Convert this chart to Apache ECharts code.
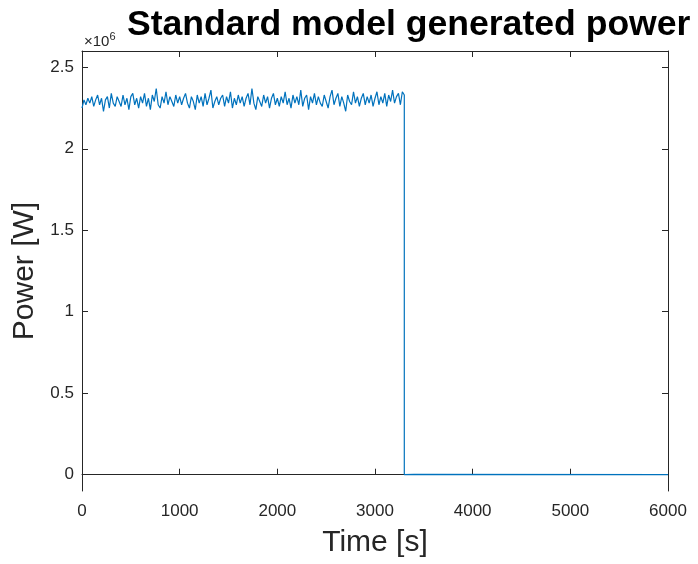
<!DOCTYPE html>
<html>
<head>
<meta charset="utf-8">
<script src="https://cdn.jsdelivr.net/npm/echarts@6/dist/echarts.min.js"></script>
<style>html,body{margin:0;padding:0;background:#fff}#c{width:698px;height:564px}</style>
</head>
<body>
<div id="c"></div>
<script>
// Time [s]
var time = [
0,20,40,60,80,100,120,140,160,180,
200,220,240,260,280,300,320,340,360,380,
400,420,440,460,480,500,520,540,560,580,
600,620,640,660,680,700,720,740,760,780,
800,820,840,860,880,900,920,940,960,980,
1000,1020,1040,1060,1080,1100,1120,1140,1160,1180,
1200,1220,1240,1260,1280,1300,1320,1340,1360,1380,
1400,1420,1440,1460,1480,1500,1520,1540,1560,1580,
1600,1620,1640,1660,1680,1700,1720,1740,1760,1780,
1800,1820,1840,1860,1880,1900,1920,1940,1960,1980,
2000,2020,2040,2060,2080,2100,2120,2140,2160,2180,
2200,2220,2240,2260,2280,2300,2320,2340,2360,2380,
2400,2420,2440,2460,2480,2500,2520,2540,2560,2580,
2600,2620,2640,2660,2680,2700,2720,2740,2760,2780,
2800,2820,2840,2860,2880,2900,2920,2940,2960,2980,
3000,3020,3040,3060,3080,3100,3120,3140,3160,3180,
3200,3220,3240,3260,3280,3300,
3300,3400,3420,6000
];
// Power [W] in units of 1e6
var power = [
2.25,2.30,2.27,2.31,2.28,2.32,2.26,2.30,2.33,2.27,
2.31,2.23,2.30,2.32,2.25,2.34,2.28,2.26,2.32,2.29,
2.26,2.33,2.27,2.31,2.24,2.32,2.34,2.27,2.31,2.25,
2.32,2.28,2.34,2.26,2.31,2.24,2.33,2.29,2.37,2.27,
2.25,2.32,2.28,2.35,2.27,2.32,2.29,2.26,2.33,2.28,
2.32,2.27,2.31,2.34,2.28,2.25,2.32,2.29,2.24,2.33,
2.28,2.32,2.26,2.34,2.27,2.31,2.36,2.25,2.29,2.32,
2.27,2.31,2.33,2.26,2.32,2.28,2.35,2.25,2.31,2.27,
2.33,2.28,2.32,2.26,2.31,2.34,2.27,2.37,2.28,2.24,
2.32,2.29,2.26,2.33,2.28,2.32,2.25,2.31,2.34,2.27,
2.31,2.26,2.32,2.28,2.35,2.27,2.31,2.25,2.33,2.28,
2.32,2.27,2.36,2.26,2.31,2.33,2.24,2.32,2.28,2.34,
2.27,2.32,2.28,2.26,2.33,2.29,2.25,2.32,2.36,2.27,
2.31,2.34,2.26,2.32,2.28,2.23,2.33,2.29,2.27,2.35,
2.28,2.32,2.26,2.31,2.34,2.27,2.32,2.28,2.33,2.26,
2.31,2.35,2.27,2.32,2.28,2.34,2.26,2.33,2.29,2.36,
2.28,2.32,2.34,2.27,2.35,2.33,
0.0,0.002,0.0,0.0
];
var xTicks = [0,1000,2000,3000,4000,5000,6000];
var yTicks = [0,0.5,1,1.5,2,2.5];

var pts = time.map(function(t,i){return [t, power[i]];});
var font = 'Liberation Sans, Arial, Helvetica, sans-serif';
var axColor = '#262626';

var chart = echarts.init(document.getElementById('c'), null, {renderer:'canvas'});
chart.setOption({
  animation:false,
  backgroundColor:'#fff',
  title:{
    text:'Standard model generated power',
    left:127, top:7, padding:0,
    textStyle:{fontFamily:font, fontWeight:'bold', fontSize:35.6, color:'#000'}
  },
  graphic:[{
    type:'text', left:84, top:31,
    style:{
      text:'{a|×10}{b|6}',
      rich:{
        a:{fontFamily:font, fontSize:15, fill:axColor, verticalAlign:'bottom', lineHeight:18},
        b:{fontFamily:font, fontSize:11, fill:axColor, verticalAlign:'top', lineHeight:12}
      }
    }
  }],
  grid:{left:82, right:30, top:51, bottom:73, containLabel:false, outerBoundsMode:'none'},
  xAxis:[{
    type:'value', min:0, max:6000, interval:1000,
    name:'Time [s]', nameLocation:'middle', nameGap:37,
    nameTextStyle:{fontFamily:font, fontSize:30, color:axColor},
    axisLine:{show:true, lineStyle:{color:axColor, width:1}},
    axisTick:{show:true, inside:true, length:6, lineStyle:{color:axColor}},
    axisLabel:{fontFamily:font, fontSize:17, color:axColor, margin:12,
      formatter:function(v){return String(v);}},
    splitLine:{show:false}
  },{
    type:'value', position:'top', min:0, max:6000, interval:1000,
    axisLine:{show:true, onZero:false, lineStyle:{color:axColor, width:1}},
    axisTick:{show:true, inside:true, length:6, lineStyle:{color:axColor}},
    axisLabel:{show:false}, splitLine:{show:false}
  }],
  yAxis:[{
    type:'value', min:-0.1, max:2.6,
    name:'Power [W]', nameLocation:'middle', nameGap:37,
    nameTextStyle:{fontFamily:font, fontSize:30, color:axColor},
    axisLine:{show:true, onZero:false, lineStyle:{color:axColor, width:1}},
    axisTick:{show:true, inside:true, length:6, customValues:yTicks, lineStyle:{color:axColor}},
    axisLabel:{fontFamily:font, fontSize:17, color:axColor, margin:8, customValues:yTicks},
    splitLine:{show:false}
  },{
    type:'value', position:'right', min:-0.1, max:2.6,
    axisLine:{show:true, onZero:false, lineStyle:{color:axColor, width:1}},
    axisTick:{show:true, inside:true, length:6, customValues:yTicks, lineStyle:{color:axColor}},
    axisLabel:{show:false, customValues:yTicks}, splitLine:{show:false}
  }],
  series:[{
    type:'line', xAxisIndex:0, yAxisIndex:0,
    data:pts, showSymbol:false, symbol:'none',
    lineStyle:{color:'#0072BD', width:1.2},
    silent:true
  }]
});
</script>
</body>
</html>
